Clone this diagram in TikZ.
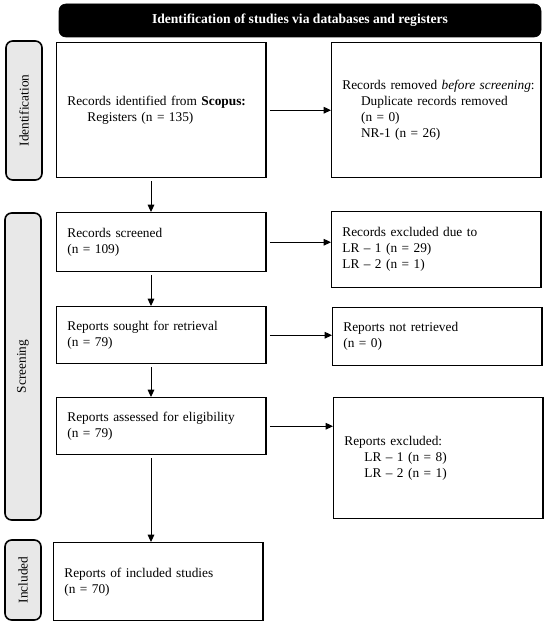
\documentclass[tikz,border=0pt]{standalone}
\usepackage{fontspec}
\setmainfont{Liberation Serif}
\usetikzlibrary{arrows.meta}

\tikzset{
    stagebox/.style = {draw, line width=1.1pt, anchor=north west, align=left,
        inner xsep=8pt, text width=141pt, font=\fontsize{10}{12}\selectfont},
    phasebox/.style = {draw, line width=1.2pt, rounded corners=5pt,
        fill={rgb,255:red,232;green,232;blue,232}, rotate=90,
        minimum height=27pt, inner sep=0pt, font=\fontsize{10}{12}\selectfont},
    flow/.style = {-{Triangle[width=5pt,length=5.5pt]}, line width=0.75pt,
        shorten <=2.25pt},
}

\begin{document}
\begin{tikzpicture}[
    x=0.75pt,y=0.75pt,
    yscale=-1,xscale=1,
]
    \useasboundingbox (0,0) rectangle (550,627);

    % 标题
    \node [draw, fill=black, text=white, rounded corners=5pt,
        minimum width=361.5pt, minimum height=24.75pt,
        font=\fontsize{10.2}{12}\selectfont\bfseries]
        (title) at (300,20.5) {Identification of studies via databases and registers};

    % 阶段
    \node [phasebox, minimum width=104.25pt] (identside)  at (24,110.5) {Identification};
    \node [phasebox, minimum width=230.25pt] (screenside) at (23,366.5) {Screening};
    \node [phasebox, minimum width=60pt]     (inclside)   at (23,580)   {Included};

    % 方框
    \node [stagebox, minimum height=101.25pt] (ident) at (56,42) {
        Records identified from \textbf{Scopus:}\\
        \hspace*{15pt}Registers (n = 135)
    };
    \node [stagebox, minimum height=101.25pt] (removed) at (331,42) {
        \mbox{Records removed \textit{before screening}:}\\
        \hspace*{14pt}Duplicate records removed\\
        \hspace*{14pt}(n = 0)\\
        \hspace*{14pt}NR-1 (n = 26)
    };
    \node [stagebox, minimum height=44.25pt] (screen) at (56,212) {
        Records screened\\
        (n = 109)
    };
    \node [stagebox, minimum height=57pt] (excl) at (331,211) {
        Records excluded due to\\
        LR -- 1 (n = 29)\\
        LR -- 2 (n = 1)
    };
    \node [stagebox, minimum height=42.75pt] (sought) at (56,306) {
        Reports sought for retrieval\\
        (n = 79)
    };
    \node [stagebox, minimum height=43.5pt] (notret) at (332,307) {
        Reports not retrieved\\
        (n = 0)
    };
    \node [stagebox, minimum height=42.75pt] (elig) at (56,397) {
        Reports assessed for eligibility\\
        (n = 79)
    };
    \node [stagebox, minimum height=90.75pt] (exclrep) at (333,397) {
        Reports excluded:\\
        \hspace*{15pt}LR -- 1 (n = 8)\\
        \hspace*{15pt}LR -- 2 (n = 1)
    };
    \node [stagebox, minimum height=58.5pt] (incl) at (53,542) {
        Reports of included studies\\
        (n = 70)
    };

    % 箭头
    \coordinate (spine) at (151,0);
    \draw [flow] (ident.east)  -- (ident.east -| removed.west);
    \draw [flow] (screen.east) -- (screen.east -| excl.west);
    \draw [flow] (sought.east) -- (sought.east -| notret.west);
    \draw [flow] (elig.east)   -- (elig.east -| exclrep.west);

    \draw [flow] (ident.south -| spine)  -- (screen.north -| spine);
    \draw [flow] (screen.south -| spine) -- (sought.north -| spine);
    \draw [flow] (sought.south -| spine) -- (elig.north -| spine);
    \draw [flow] (elig.south -| spine)   -- (incl.north -| spine);
\end{tikzpicture}
\end{document}
